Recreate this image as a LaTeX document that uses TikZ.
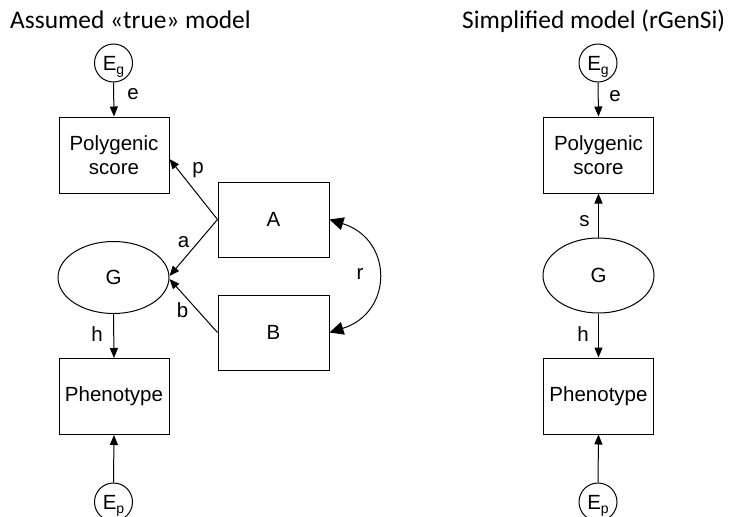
\documentclass[tikz,border=0pt]{standalone}
\usepackage{fontspec}
\setmainfont{Liberation Sans}
\newfontfamily\headingfont{Carlito}
\usetikzlibrary{arrows.meta,shapes.geometric,calc}

% error term text: E with a lowered small letter
\newcommand\errtext[1]{E\raisebox{-4pt}{\fontsize{14}{14}\selectfont #1}}

\begin{document}
\begin{tikzpicture}[x=1pt,y=-1pt,
  every node/.style={font=\fontsize{20.5}{24}\selectfont},
  box/.style={draw, line width=1pt, minimum width=110pt, minimum height=76pt, inner sep=0pt, align=center},
  latent/.style={draw, line width=1pt, ellipse, minimum width=111pt, minimum height=72pt, inner sep=0pt},
  err/.style={draw, circle, line width=1pt, minimum size=38pt, inner sep=0pt},
  errlbl/.style={anchor=base, inner sep=0pt},
  arr/.style={line width=1pt, -{Triangle[length=10pt,width=8pt]}},
  corr/.style={line width=1pt, {Triangle[length=14pt,width=13pt]}-{Triangle[length=14pt,width=13pt]}},
  lbl/.style={inner sep=0pt},
  heading/.style={font=\headingfont\fontsize{25.4}{30}\selectfont, anchor=base west, inner sep=0pt}]

\useasboundingbox (0,0) rectangle (729,517);

% headings
\node[heading] (t1) at (10,28.5) {Assumed «true» model};
\node[heading] (t2) at (462,28.5) {Simplified model (rGenSi)};

% ---- assumed model ----
\node[err] (eg1) at (113.5,63) {};
\node[errlbl] (eg1t) at ($(eg1)+(0,7)$) {\errtext{g}};
\node[box] (ps1) at (114,155) {Polygenic\\score};
\node[latent] (g1) at (113.5,277.5) {G};
\node[box] (ph1) at (114,396.5) {Phenotype};
\node[err] (ep1) at (113.5,502) {};
\node[errlbl] (ep1t) at ($(ep1)+(0,7)$) {\errtext{p}};
\node[box, minimum width=111pt, minimum height=75pt] (A) at (273.5,219.5) {A};
\node[box, minimum width=111pt, minimum height=75pt] (B) at (273.5,332.5) {B};

\draw[arr] (eg1.south) -- (ps1.north);
\draw[arr] (A.west) -- ([yshift=-4pt]ps1.east);
\draw[arr] (A.west) -- ([yshift=1.5pt]g1.east);
\draw[arr] (B.west) -- ([yshift=-1.5pt]g1.east);
\draw[arr] (g1.south) -- (ph1.north);
\draw[arr] (ep1.north) -- (ph1.south);
\draw[corr] (A.east) .. controls ($(A.east)+(64,20)$) and ($(B.east)+(64,-20)$) .. (B.east);

\node[lbl] (le1) at (133,94) {e};
\node[lbl] (lp) at (198,170) {p};
\node[lbl] (la) at (183.5,242) {a};
\node[lbl] (lb) at (182.5,310) {b};
\node[lbl] (lr) at (360,273.5) {r};
\node[lbl] (lh1) at (97,334.5) {h};

% ---- simplified model ----
\node[err] (eg2) at (598,63) {};
\node[errlbl] (eg2t) at ($(eg2)+(0,7)$) {\errtext{g}};
\node[box] (ps2) at (598.5,155) {Polygenic\\score};
\node[latent, minimum height=75pt] (g2) at (598.5,275.5) {G};
\node[box] (ph2) at (598.5,396) {Phenotype};
\node[err] (ep2) at (598,502) {};
\node[errlbl] (ep2t) at ($(ep2)+(0,7)$) {\errtext{p}};

\draw[arr] (eg2.south) -- (ps2.north);
\draw[arr] (g2.north) -- (ps2.south);
\draw[arr] (g2.south) -- (ph2.north);
\draw[arr] (ep2.north) -- (ph2.south);

\node[lbl] (le2) at (615,96) {e};
\node[lbl] (ls) at (584.5,221) {s};
\node[lbl] (lh2) at (583,334.5) {h};
\end{tikzpicture}
\end{document}
